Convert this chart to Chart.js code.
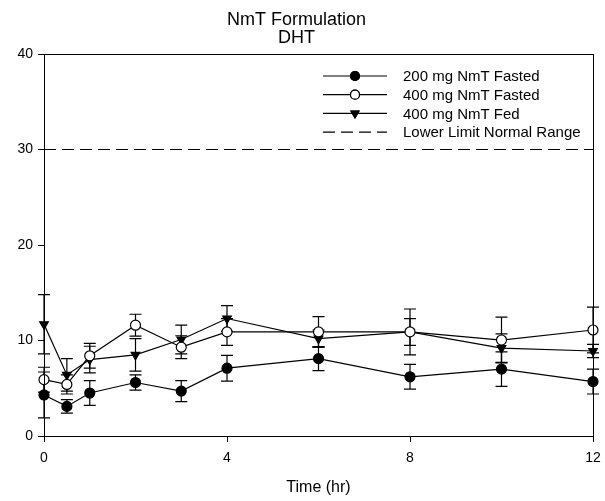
<!DOCTYPE html>
<html>
<head>
<meta charset="utf-8">
<script src="https://cdn.jsdelivr.net/npm/chart.js@4"></script>
<style>
  body { margin: 0; background: #fff; }
  #wrap { width: 605px; height: 501px; }
</style>
</head>
<body>
<div id="wrap"><canvas id="chart" width="605" height="501"></canvas></div>
<script>
const times = [0, 0.5, 1, 2, 3, 4, 6, 8, 10, 12];
const fasted200 = [4.3, 3.1, 4.5, 5.6, 4.7, 7.1, 8.1, 6.2, 7.0, 5.7];
const fasted200Err = [2.4, 0.7, 1.3, 0.8, 1.1, 1.35, 1.25, 1.3, 1.8, 1.3];
const fasted400 = [5.9, 5.4, 8.4, 11.6, 9.3, 10.9, 10.9, 10.9, 10.05, 11.1];
const fasted400Err = [1.3, 1.0, 1.3, 1.15, 1.2, 1.4, 1.6, 2.4, 2.4, 2.4];
const fed400 = [11.7, 6.4, 8.0, 8.5, 10.1, 12.3, 10.2, 10.9, 9.2, 8.9];
const fed400Err = [3.1, 1.7, 1.4, 1.7, 1.5, 1.35, 0.9, 1.4, 1.5, 0.7];
const lowerLimit = 30;
const labels = ['200 mg NmT Fasted', '400 mg NmT Fasted', '400 mg NmT Fed', 'Lower Limit Normal Range'];

const FONT = 'Liberation Sans, Arial, sans-serif';

function pts(ys) {
  return times.map((t, i) => ({ x: t, y: ys[i] }));
}

function series(label, ys, errs, style) {
  return Object.assign({
    label: label,
    data: pts(ys),
    errors: errs,
    clip: false,
    borderColor: '#000',
    borderWidth: 1.2,
    pointBorderColor: '#000',
    pointBorderWidth: 1.2,
    pointRadius: 5,
    tension: 0
  }, style);
}

// vertical error bars drawn through the scales
const errorBars = {
  id: 'errorBars',
  beforeDatasetsDraw(chart) {
    const ctx = chart.ctx;
    const xs = chart.scales.x, ys = chart.scales.y;
    ctx.save();
    ctx.strokeStyle = '#000';
    ctx.lineWidth = 1.2;
    chart.data.datasets.forEach(ds => {
      if (!ds.errors) return;
      ds.data.forEach((p, i) => {
        const e = ds.errors[i];
        const px = xs.getPixelForValue(p.x);
        const top = ys.getPixelForValue(p.y + e);
        const bot = ys.getPixelForValue(p.y - e);
        ctx.beginPath();
        ctx.moveTo(px, top); ctx.lineTo(px, bot);
        ctx.moveTo(px - 6, top); ctx.lineTo(px + 6, top);
        ctx.moveTo(px - 6, bot); ctx.lineTo(px + 6, bot);
        ctx.stroke();
      });
    });
    ctx.restore();
  }
};

// frame plus legend inside the plot
const frameLegend = {
  id: 'frameLegend',
  afterDraw(chart) {
    const ctx = chart.ctx;
    const a = chart.chartArea;
    ctx.save();
    ctx.strokeStyle = '#000';
    ctx.lineWidth = 1;
    ctx.strokeRect(a.left + 0.5, a.top + 0.5, a.right - a.left, a.bottom - a.top);

    const x0 = a.right - 270, x1 = a.right - 206, mx = (x0 + x1) / 2;
    ctx.font = '15px ' + FONT;
    ctx.textBaseline = 'middle';
    ctx.fillStyle = '#000';
    chart.data.datasets.forEach((ds, i) => {
      const y = a.top + 22 + i * 18.7;
      ctx.beginPath();
      ctx.lineWidth = 1.2;
      ctx.setLineDash(ds.borderDash || []);
      ctx.moveTo(x0, y); ctx.lineTo(x1, y);
      ctx.stroke();
      ctx.setLineDash([]);
      if (ds.pointRadius > 0) {
        ctx.fillStyle = ds.pointBackgroundColor;
        Chart.helpers.drawPoint(ctx, {
          pointStyle: ds.pointStyle, rotation: ds.pointRotation || 0,
          radius: 4.5, borderWidth: 1.2
        }, mx, y);
        ctx.fill();
        ctx.stroke();
      }
      ctx.fillStyle = '#000';
      ctx.fillText(ds.label, a.right - 190, y + 1);
    });
    ctx.restore();
  }
};

new Chart(document.getElementById('chart'), {
  type: 'line',
  data: {
    datasets: [
      series(labels[0], fasted200, fasted200Err, { pointStyle: 'circle', pointBackgroundColor: '#000', backgroundColor: '#000' }),
      series(labels[1], fasted400, fasted400Err, { pointStyle: 'circle', pointBackgroundColor: '#fff', backgroundColor: '#fff' }),
      series(labels[2], fed400, fed400Err, { pointStyle: 'triangle', pointRotation: 180, pointBackgroundColor: '#000', backgroundColor: '#000' }),
      {
        label: labels[3],
        data: [{ x: 0, y: lowerLimit }, { x: 12, y: lowerLimit }],
        borderColor: '#000',
        borderWidth: 1.2,
        borderDash: [12, 6],
        pointRadius: 0
      }
    ]
  },
  options: {
    responsive: false,
    animation: false,
    layout: { padding: { left: 0, right: 12, top: 0, bottom: 0 } },
    plugins: {
      legend: { display: false },
      tooltip: { enabled: false },
      title: {
        display: true,
        text: ['NmT Formulation', 'DHT'],
        color: '#000',
        font: { family: FONT, size: 18, weight: 'normal', lineHeight: 1.0 },
        padding: { top: 11, bottom: 7 }
      }
    },
    scales: {
      x: {
        type: 'linear',
        min: 0, max: 12,
        afterFit: s => { s.height = 65; s.paddingRight = 0; s.paddingLeft = 0; },
        ticks: { stepSize: 4, color: '#000', padding: 8, font: { family: FONT, size: 14 } },
        grid: { drawOnChartArea: false, tickLength: 6, color: '#000' },
        border: { color: '#000' },
        title: { display: true, text: 'Time (hr)', color: '#000', padding: { top: 4, bottom: 4 }, font: { family: FONT, size: 16 } }
      },
      y: {
        min: 0, max: 40,
        afterFit: s => { s.width = 44; },
        ticks: { stepSize: 10, color: '#000', padding: 5, font: { family: FONT, size: 14 } },
        grid: { drawOnChartArea: false, tickLength: 6, color: '#000' },
        border: { color: '#000' }
      }
    }
  },
  plugins: [errorBars, frameLegend]
});
</script>
</body>
</html>
